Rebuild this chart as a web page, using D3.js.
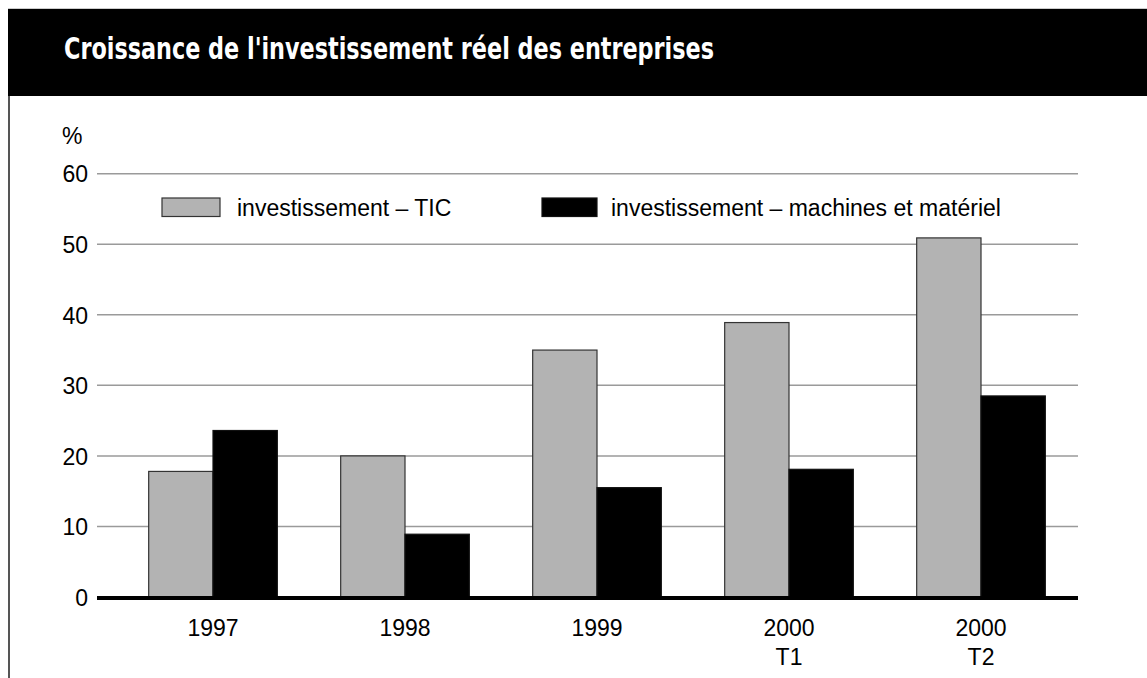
<!DOCTYPE html>
<html>
<head>
<meta charset="utf-8">
<script src="https://cdn.jsdelivr.net/npm/d3@7"></script>
<style>
  html, body { margin: 0; padding: 0; background: #fff; }
  svg { display: block; }
  text { font-family: "Liberation Sans", Arial, Helvetica, sans-serif; }
</style>
</head>
<body>
<svg id="chart" width="1147" height="678"></svg>
<script>
const title = "Croissance de l'investissement réel des entreprises";
const categories = ["1997", "1998", "1999", "2000\nT1", "2000\nT2"];
const seriesNames = ["investissement – TIC", "investissement – machines et matériel"];
const ticValues = [17.8, 20.0, 35.0, 38.9, 50.9];
const machValues = [23.6, 8.9, 15.5, 18.1, 28.5];
const yTicks = [0, 10, 20, 30, 40, 50, 60];
const seriesColors = ["#b3b3b3", "#000000"];
const seriesStrokes = ["#333333", "#111111"];

const table = categories.map((c, i) => ({ cat: c, values: [ticValues[i], machValues[i]] }));

const svg = d3.select("#chart");
const FS = "23px";

// header
svg.append("line").attr("x1", 8).attr("x2", 1147).attr("y1", 8.5).attr("y2", 8.5)
  .attr("stroke", "#cccccc").attr("stroke-width", 1);
svg.append("rect").attr("x", 8).attr("y", 9).attr("width", 1139).attr("height", 87).attr("fill", "#000");
svg.append("text").attr("x", 64).attr("y", 58.5)
  .attr("fill", "#fff")
  .style("font-family", "'Liberation Sans Narrow', 'DejaVu Sans Condensed', sans-serif")
  .style("font-weight", "bold").style("font-size", "31px")
  .attr("textLength", 650).attr("lengthAdjust", "spacingAndGlyphs")
  .text(title);
// left border
svg.append("line").attr("x1", 9).attr("x2", 9).attr("y1", 96).attr("y2", 678)
  .attr("stroke", "#555").attr("stroke-width", 2);

const y = d3.scaleLinear().domain([0, 60]).range([597, 173.7]);
const x0 = d3.scaleBand().domain(categories).range([117, 1077]).paddingInner(0.33).paddingOuter(0.165);
const x1 = d3.scaleBand().domain([0, 1]).range([0, x0.bandwidth()]);

const gridLeft = 97, gridRight = 1078;

// gridlines
svg.append("g").selectAll("line").data(yTicks.filter(t => t > 0)).join("line")
  .attr("x1", gridLeft).attr("x2", gridRight)
  .attr("y1", d => y(d)).attr("y2", d => y(d))
  .attr("stroke", "#9a9a9a").attr("stroke-width", 1.5);

// y axis labels
const yAxis = d3.axisLeft(y).tickValues(yTicks).tickSize(0).tickPadding(0);
const yg = svg.append("g").attr("transform", `translate(88,0)`).call(yAxis);
yg.attr("font-size", null).attr("font-family", null);
yg.select(".domain").remove();
yg.selectAll("text").style("font-size", FS).attr("fill", "#000").attr("dy", "0.36em")
  .style("font-family", "'Liberation Sans', Arial, sans-serif");

svg.append("text").attr("x", 62).attr("y", 144).style("font-size", FS).text("%");

// bars
const groups = svg.append("g").selectAll("g").data(table).join("g")
  .attr("transform", d => `translate(${x0(d.cat)},0)`);
groups.selectAll("rect").data(d => d.values.map((v, i) => ({ v, i }))).join("rect")
  .attr("x", d => x1(d.i))
  .attr("y", d => y(d.v))
  .attr("width", x1.bandwidth())
  .attr("height", d => y(0) - y(d.v))
  .attr("fill", d => seriesColors[d.i])
  .attr("stroke", d => seriesStrokes[d.i])
  .attr("stroke-width", 1.2);

// baseline
svg.append("line").attr("x1", gridLeft).attr("x2", gridRight)
  .attr("y1", y(0) + 1).attr("y2", y(0) + 1)
  .attr("stroke", "#000").attr("stroke-width", 4);

// x labels
const xl = svg.append("g").selectAll("text").data(categories).join("text")
  .attr("text-anchor", "middle")
  .attr("x", d => x0(d) + x0.bandwidth() / 2)
  .attr("y", 636)
  .style("font-size", FS);
xl.each(function (d) {
  const lines = d.split("\n");
  d3.select(this).selectAll("tspan").data(lines).join("tspan")
    .attr("x", x0(d) + x0.bandwidth() / 2)
    .attr("dy", (l, i) => i === 0 ? 0 : 29)
    .text(l => l);
});

// legend
const legendX = [162, 542];
const legend = svg.append("g").selectAll("g").data(seriesNames).join("g")
  .attr("transform", (d, i) => `translate(${legendX[i]},198)`);
legend.append("rect").attr("width", (d, i) => i === 0 ? 58 : 55).attr("height", 18.5)
  .attr("fill", (d, i) => seriesColors[i])
  .attr("stroke", (d, i) => seriesStrokes[i]).attr("stroke-width", 1.2);
legend.append("text").attr("x", (d, i) => i === 0 ? 75 : 69).attr("y", 18)
  .style("font-size", FS).text(d => d);
</script>
</body>
</html>
